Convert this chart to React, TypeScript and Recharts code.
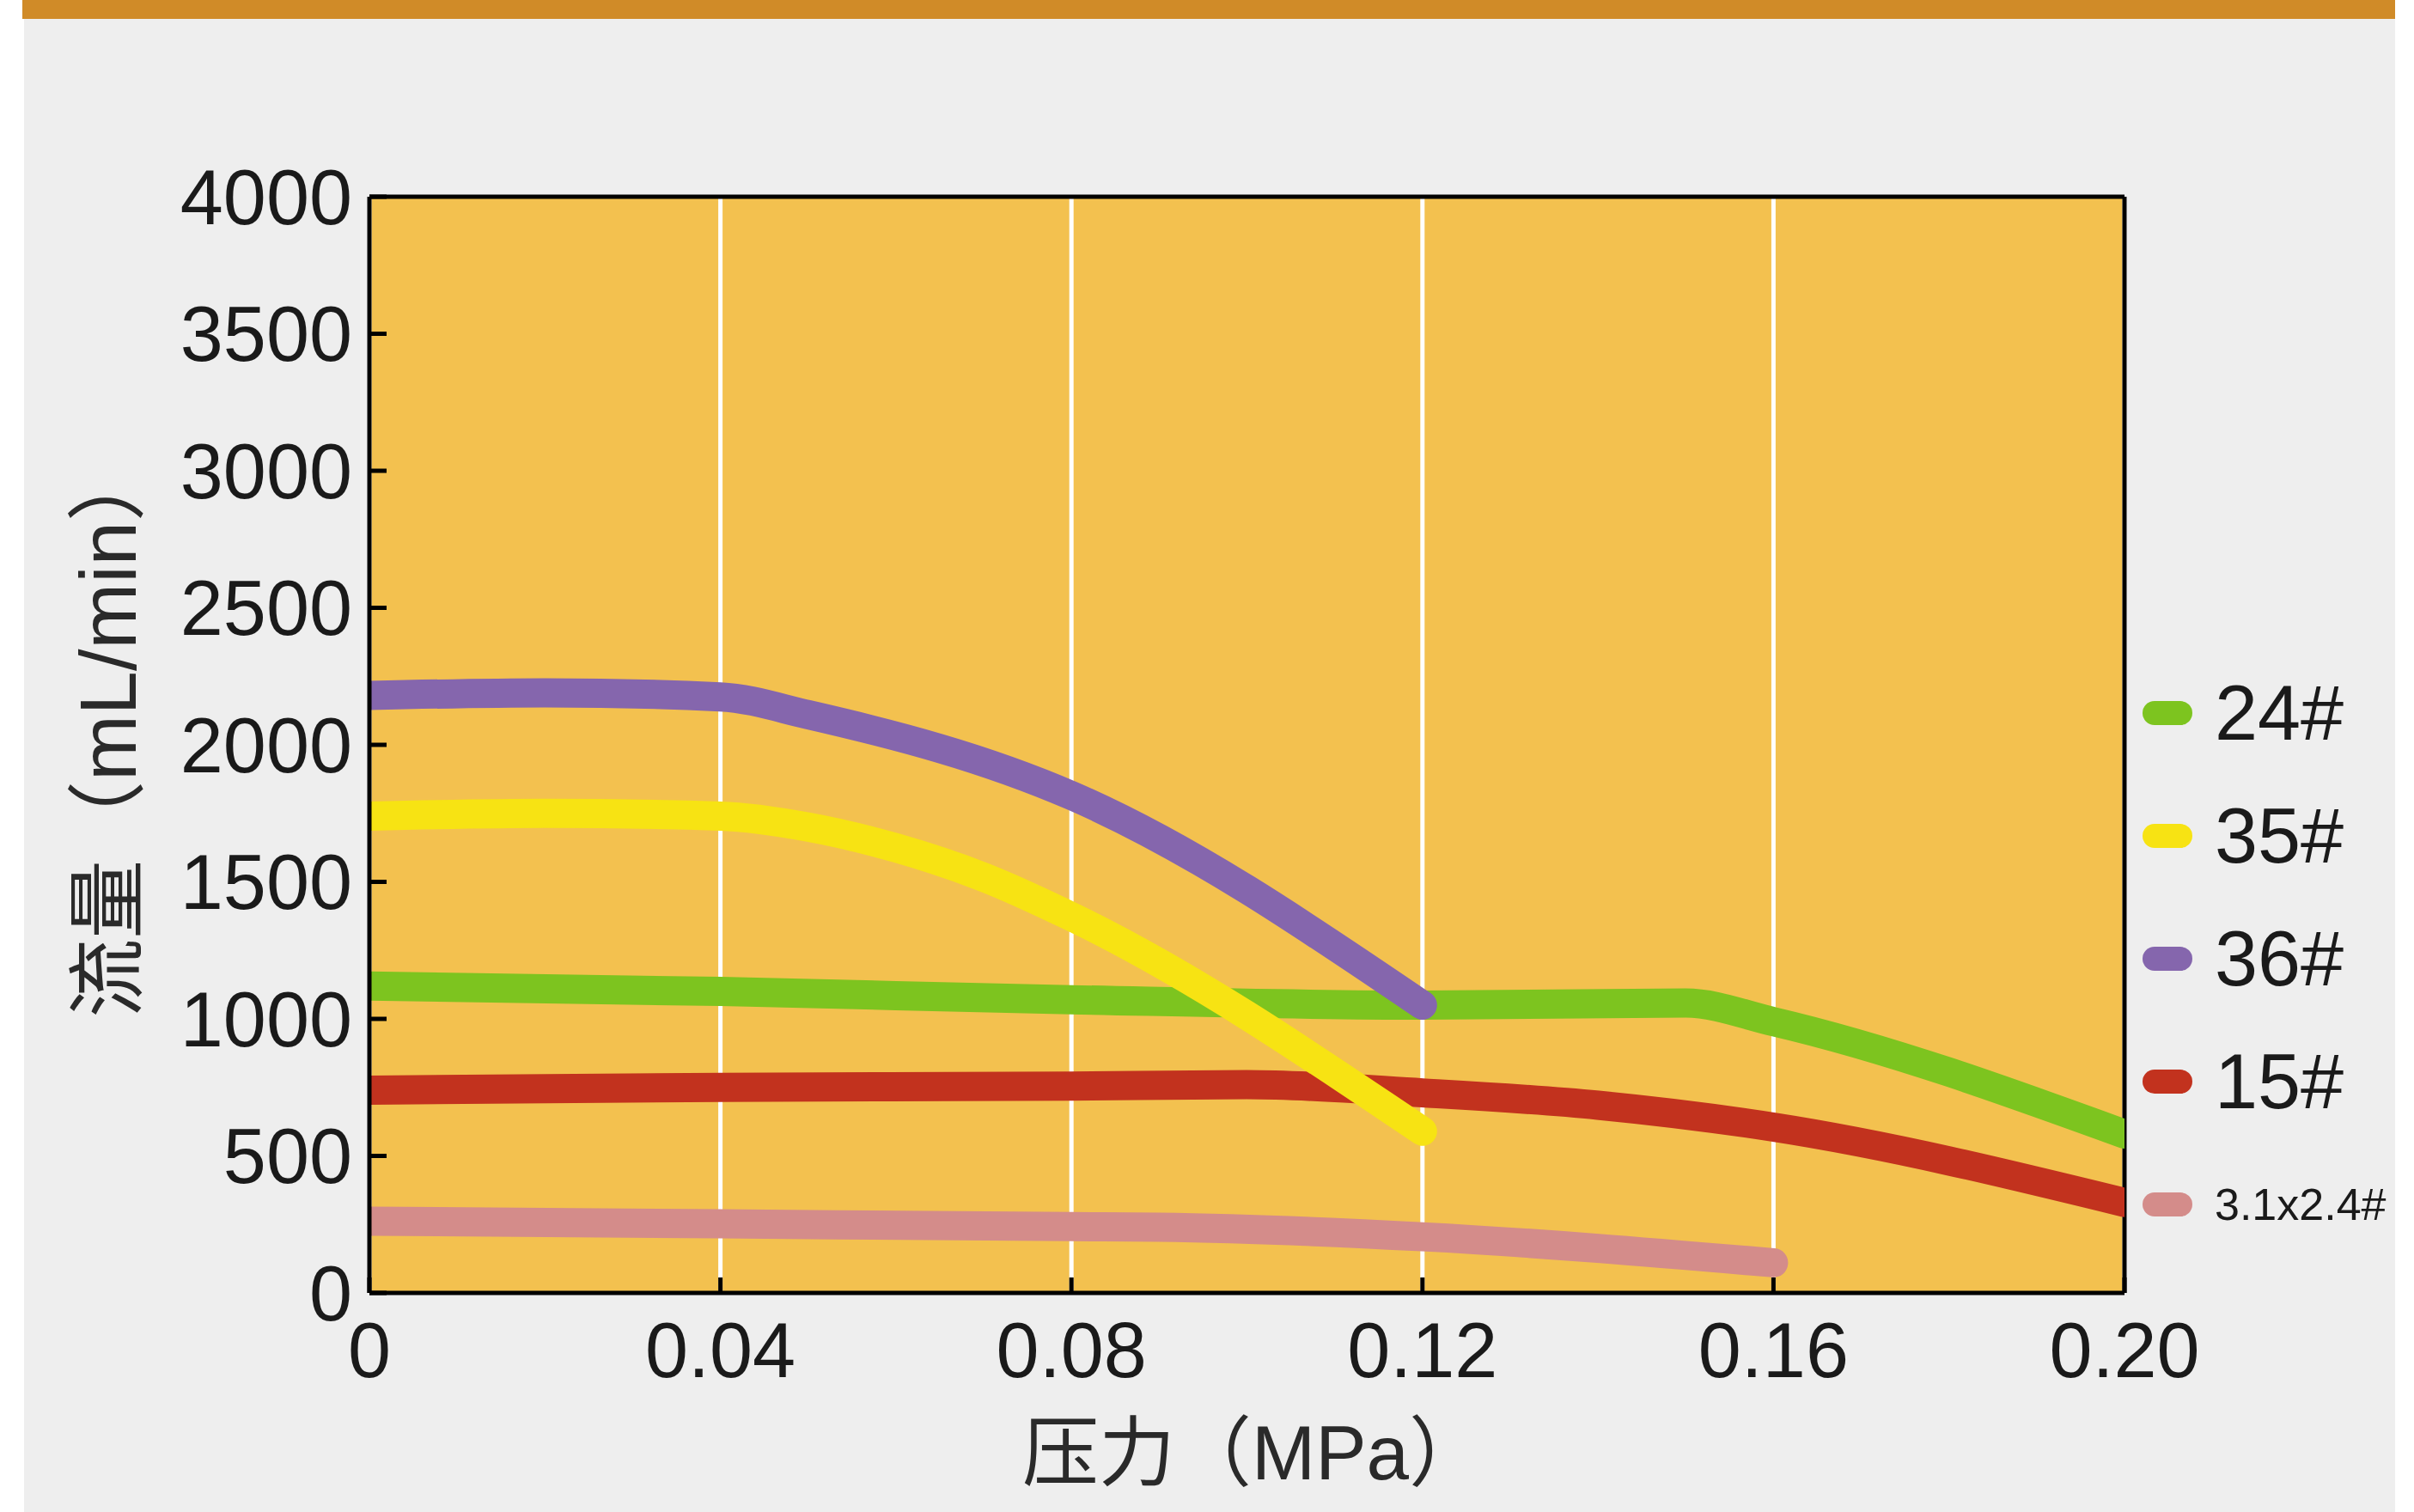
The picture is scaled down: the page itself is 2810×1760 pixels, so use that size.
import {
  LineChart,
  Line,
  XAxis,
  YAxis,
  CartesianGrid,
  ReferenceLine,
  Legend,
} from "recharts";

// pressure (MPa) / flow (mL/min)
const p24 = [0, 0.04, 0.08, 0.12, 0.15, 0.16, 0.2];
const f24 = [1120, 1100, 1070, 1050, 1058, 990, 580];

const p35 = [0, 0.02, 0.04, 0.05, 0.06, 0.07, 0.08, 0.12];
const f35 = [1740, 1750, 1740, 1700, 1624, 1517, 1373, 590];

const p36 = [0, 0.02, 0.04, 0.05, 0.08, 0.12];
const f36 = [2180, 2190, 2175, 2110, 1815, 1050];

const p15 = [0, 0.04, 0.08, 0.1, 0.12, 0.14, 0.16, 0.2];
const f15 = [740, 750, 755, 760, 730, 685, 605, 330];

const pSmall = [0, 0.04, 0.08, 0.09, 0.12, 0.16];
const fSmall = [262, 252, 242, 240, 205, 110];

const xTicks = [0, 0.04, 0.08, 0.12, 0.16, 0.2];
const xTickLabels = ["0", "0.04", "0.08", "0.12", "0.16", "0.20"];
const yTicks = [0, 500, 1000, 1500, 2000, 2500, 3000, 3500, 4000];

const legendOrder = ["24#", "35#", "36#", "15#", "3.1x2.4#"];

const toRows = (p: number[], f: number[]) => p.map((x, i) => ({ p: x, v: f[i] }));

// drawn bottom-up so yellow/purple sit on top, as in the picture
const series = [
  { name: "24#", color: "#7DC41F", data: toRows(p24, f24) },
  { name: "15#", color: "#C2321E", data: toRows(p15, f15) },
  { name: "3.1x2.4#", color: "#D48C8A", data: toRows(pSmall, fSmall) },
  { name: "35#", color: "#F7E313", data: toRows(p35, f35) },
  { name: "36#", color: "#8566AD", data: toRows(p36, f36) },
];

const FONT = '"Liberation Sans", Arial, "Noto Sans CJK SC", sans-serif';
const LEGEND_W = 310;

const LegendBox = ({ payload }: any) => {
  const items = [...(payload || [])].sort(
    (a: any, b: any) => legendOrder.indexOf(a.value) - legendOrder.indexOf(b.value)
  );
  return (
    <div style={{ fontFamily: FONT, color: "#1a1a1a", width: LEGEND_W }}>
      {items.map((it: any) => (
        <div
          key={it.value}
          style={{ display: "flex", alignItems: "center", height: 143 }}
        >
          <div
            style={{
              width: 58,
              height: 28,
              borderRadius: 14,
              background: it.color,
              marginRight: 26,
              flexShrink: 0,
            }}
          />
          <span style={{ fontSize: it.value.length > 4 ? 52 : 90, lineHeight: 1 }}>
            {it.value}
          </span>
        </div>
      ))}
    </div>
  );
};

export default function App() {
  return (
    <div
      style={{
        position: "absolute",
        left: 0,
        top: 0,
        width: 2810,
        height: 1760,
        background: "#ffffff",
        overflow: "hidden",
      }}
    >
      <div
        style={{
          position: "absolute",
          left: 26,
          top: 0,
          width: 2762,
          height: 22,
          background: "#D08B28",
        }}
      />
      <div
        style={{
          position: "absolute",
          left: 28,
          top: 22,
          width: 2760,
          height: 1738,
          background: "#EEEEEE",
        }}
      />
      <div style={{ position: "absolute", left: 0, top: 0 }}>
        <LineChart
          width={2810}
          height={1760}
          margin={{ top: 229, right: 337 - LEGEND_W, bottom: 0, left: 100 }}
        >
          <CartesianGrid
            horizontal={false}
            vertical
            stroke="#ffffff"
            strokeWidth={5}
            fill="#F3C14F"
            fillOpacity={1}
          />
          <XAxis
            type="number"
            dataKey="p"
            domain={[0, 0.2]}
            ticks={xTicks}
            allowDataOverflow
            tickFormatter={(v: number) => xTickLabels[xTicks.indexOf(v)] ?? String(v)}
            height={255}
            axisLine={{ stroke: "#000", strokeWidth: 5 }}
            tickLine={{ stroke: "#000", strokeWidth: 5 }}
            tickSize={-18}
            tickMargin={52}
            tick={{ fill: "#1a1a1a", fontSize: 90, fontFamily: FONT }}
            label={{
              content: (props: any) => {
                const vb = props.viewBox || {};
                const cx = vb.x + vb.width / 2 + 8;
                const cy = vb.y + 186;
                return (
                  <text
                    x={cx}
                    y={cy}
                    textAnchor="middle"
                    dominantBaseline="central"
                    fontSize={89}
                    fontFamily={FONT}
                    fill="#2a2a2a"
                  >
                    压力（MPa）
                  </text>
                );
              },
            }}
          />
          <YAxis
            type="number"
            dataKey="v"
            domain={[0, 4000]}
            ticks={yTicks}
            allowDataOverflow
            width={330}
            axisLine={{ stroke: "#000", strokeWidth: 5 }}
            tickLine={{ stroke: "#000", strokeWidth: 5 }}
            tickSize={-20}
            tickMargin={40}
            tick={{ fill: "#1a1a1a", fontSize: 90, fontFamily: FONT }}
            label={{
              content: (props: any) => {
                const vb = props.viewBox || {};
                const cx = vb.x + 26;
                const cy = vb.y + vb.height / 2 - 17;
                return (
                  <text
                    x={cx}
                    y={cy}
                    transform={`rotate(-90 ${cx} ${cy})`}
                    textAnchor="middle"
                    dominantBaseline="central"
                    fontSize={92}
                    fontFamily={FONT}
                    fill="#2a2a2a"
                  >
                    流量（mL/min）
                  </text>
                );
              },
            }}
          />
          <ReferenceLine x={0.2} stroke="#000" strokeWidth={5} />
          <ReferenceLine y={4000} stroke="#000" strokeWidth={5} />
          {series.map((s) => (
            <Line
              key={s.name}
              name={s.name}
              data={s.data}
              dataKey="v"
              type="monotone"
              stroke={s.color}
              strokeWidth={34}
              strokeLinecap="round"
              strokeLinejoin="round"
              dot={false}
              activeDot={false}
              isAnimationActive={false}
            />
          ))}
          <Legend
            layout="vertical"
            align="right"
            verticalAlign="middle"
            content={<LegendBox />}
            wrapperStyle={{
              position: "absolute",
              left: 2494,
              top: 758,
              width: LEGEND_W,
            }}
          />
        </LineChart>
      </div>
    </div>
  );
}
